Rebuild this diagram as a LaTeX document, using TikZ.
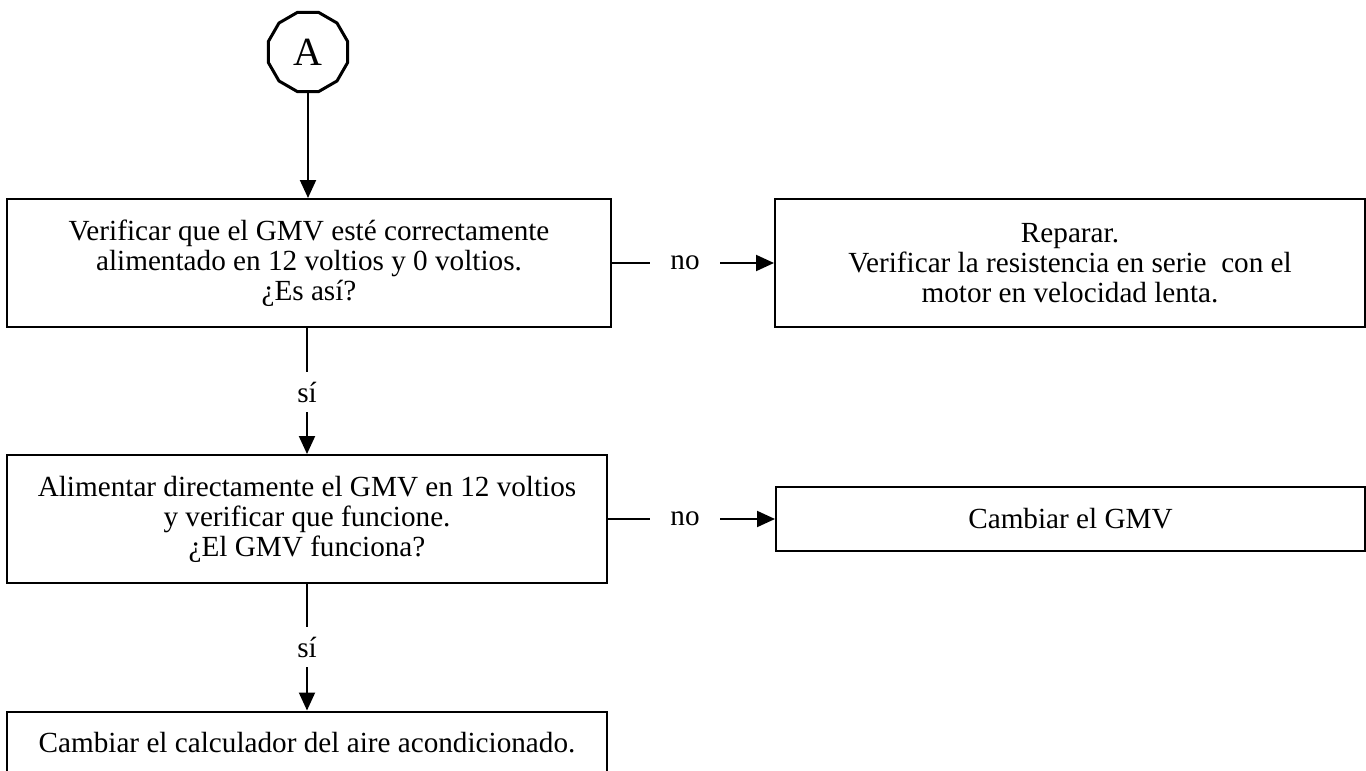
\documentclass[tikz,border=0pt]{standalone}
\usepackage{fontspec}
\setmainfont{Liberation Serif}
\usetikzlibrary{arrows.meta, shapes.geometric}

\tikzset{
    box/.style={draw=black, line width=1pt, align=center, inner sep=0pt,
        font=\fontsize{14.6}{15}\selectfont},
    answer/.style={inner sep=0pt, font=\fontsize{14.6}{15}\selectfont},
    arr/.style={line width=1pt, -{Triangle[length=9pt,width=8pt]}},
    plain/.style={line width=1pt}
}

\begin{document}
\begin{tikzpicture}[x=0.5pt, y=-0.5pt]
    % Page
    \useasboundingbox (0,0) rectangle (1366,771);
    \clip (0,0) rectangle (1366,771);

    % Connector A
    \node[draw=black, line width=1.5pt, regular polygon, regular polygon sides=12,
        minimum size=41pt, inner sep=0pt, font=\fontsize{20}{24}\selectfont] (A) at (308,52) {A};

    % Boxes
    \node[box, minimum width=302pt, minimum height=64pt] (check) at (309,263)
        {Verificar que el GMV esté correctamente\\ alimentado en 12 voltios y 0 voltios.\\ ¿Es así?};
    \node[box, minimum width=295pt, minimum height=64pt] (repair) at (1070,263)
        {Reparar.\\ Verificar la resistencia en serie\ \ con el\\ motor en velocidad lenta.};
    \node[box, minimum width=300pt, minimum height=64pt] (feed) at (307,519)
        {Alimentar directamente el GMV en 12 voltios\\ y verificar que funcione.\\ ¿El GMV funciona?};
    \node[box, minimum width=294.5pt, minimum height=32pt] (swap) at (1070.5,519)
        {Cambiar el GMV};
    \node[box, minimum width=300pt, minimum height=31pt] (calc) at (307,742.5)
        {Cambiar el calculador del aire acondicionado.};

    % Answers
    \node[answer, minimum width=35pt] (no1) at (685,263) {no};
    \node[answer, minimum width=35pt] (no2) at (685,519) {no};
    \node[answer, minimum height=20pt] (si1) at (307,392) {sí};
    \node[answer, minimum height=20pt] (si2) at (307,647) {sí};

    % Connectors
    \draw[arr] (A.south) -- (A.south |- check.north);
    \draw[plain] (check.east) -- (no1.west);
    \draw[arr] (no1.east) -- (repair.west);
    \draw[plain] (si1.north |- check.south) -- (si1.north);
    \draw[arr] (si1.south) -- (si1.south |- feed.north);
    \draw[plain] (feed.east) -- (no2.west);
    \draw[arr] (no2.east) -- (swap.west);
    \draw[plain] (si2.north |- feed.south) -- (si2.north);
    \draw[arr] (si2.south) -- (si2.south |- calc.north);
\end{tikzpicture}
\end{document}
